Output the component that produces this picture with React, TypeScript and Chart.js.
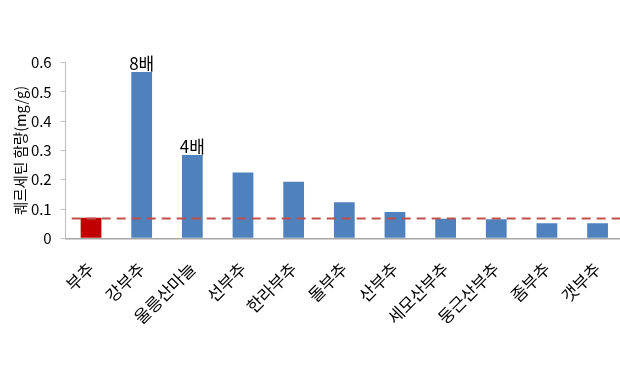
import React, { useEffect, useRef } from "react";
import { Chart, registerables } from "chart.js";

Chart.register(...registerables);

const categories = ["부추", "강부추", "울릉산마늘", "선부추", "한라부추", "돌부추", "산부추", "세모산부추", "둥근산부추", "좀부추", "갯부추"];
const values = [0.07, 0.568, 0.285, 0.225, 0.193, 0.123, 0.09, 0.067, 0.065, 0.051, 0.051];
const barColors = ["#c00000", "#4f81bd", "#4f81bd", "#4f81bd", "#4f81bd", "#4f81bd", "#4f81bd", "#4f81bd", "#4f81bd", "#4f81bd", "#4f81bd"];
const referenceLevel = 0.068;
const annotations = [
  { index: 1, text: "8배" },
  { index: 2, text: "4배" },
];
const yTitle = "퀘르세틴 함량(mg/g)";

const FONT = "'Noto Sans CJK KR', 'Noto Sans', sans-serif";

const overlayPlugin = {
  id: "overlay",
  afterDatasetsDraw(chart: any) {
    const { ctx, chartArea, scales } = chart;
    const x = scales.x;
    const y = scales.y;
    ctx.save();
    ctx.strokeStyle = "#c0504d";
    ctx.lineWidth = 2;
    ctx.setLineDash([9, 6]);
    const yy = y.getPixelForValue(referenceLevel);
    ctx.beginPath();
    ctx.moveTo(chartArea.left + 6, yy);
    ctx.lineTo(chartArea.right, yy);
    ctx.stroke();
    ctx.restore();
    ctx.save();
    ctx.fillStyle = "#000";
    ctx.font = `17px ${FONT}`;
    ctx.textAlign = "center";
    ctx.textBaseline = "alphabetic";
    annotations.forEach((a) => {
      const px = x.getPixelForValue(a.index);
      const py = y.getPixelForValue(values[a.index]);
      ctx.fillText(a.text, px, py - 2);
    });
    ctx.restore();
  },
};

export default function App() {
  const ref = useRef<HTMLCanvasElement>(null);
  useEffect(() => {
    document.body.style.margin = "0";
    const chart = new Chart(ref.current!, {
      type: "bar",
      data: {
        labels: categories,
        datasets: [
          {
            data: values,
            backgroundColor: barColors,
            barPercentage: 0.41,
            categoryPercentage: 1,
          },
        ],
      },
      options: {
        animation: false,
        responsive: false,
        layout: { padding: { top: 62.7, right: 0, left: 0, bottom: 0 } },
        plugins: { legend: { display: false }, tooltip: { enabled: false } },
        scales: {
          x: {
            grid: { display: false },
            border: { display: true, color: "#a6a6a6", width: 1.5 },
            ticks: {
              color: "#000",
              maxRotation: 45,
              minRotation: 45,
              autoSkip: false,
              padding: 12,
              font: { size: 17, family: FONT },
            },
            afterFit: (s: any) => {
              s.height = 367 - 238.3;
            },
          },
          y: {
            min: 0,
            max: 0.6,
            grid: { drawOnChartArea: false, drawTicks: true, tickLength: 5, color: "#bfbfbf" },
            border: { display: true, color: "#bfbfbf", width: 1 },
            ticks: {
              stepSize: 0.1,
              color: "#000",
              padding: 9,
              font: { size: 15, family: FONT },
              callback: (v: any) => (Number(v) === 0 ? "0" : Number(v).toFixed(1)),
            },
            title: {
              display: true,
              text: yTitle,
              color: "#000",
              font: { size: 14.5, family: FONT },
              padding: { top: 12, bottom: 0 },
            },
            afterFit: (s: any) => {
              s.width = 65.7;
            },
          },
        },
      },
      plugins: [overlayPlugin],
    });
    return () => chart.destroy();
  }, []);
  return (
    <div style={{ position: "fixed", left: 0, top: 0, width: 620, height: 367, overflow: "hidden", background: "#fff" }}>
      <canvas ref={ref} width={624} height={367} style={{ width: 624, height: 367, display: "block" }} />
    </div>
  );
}
